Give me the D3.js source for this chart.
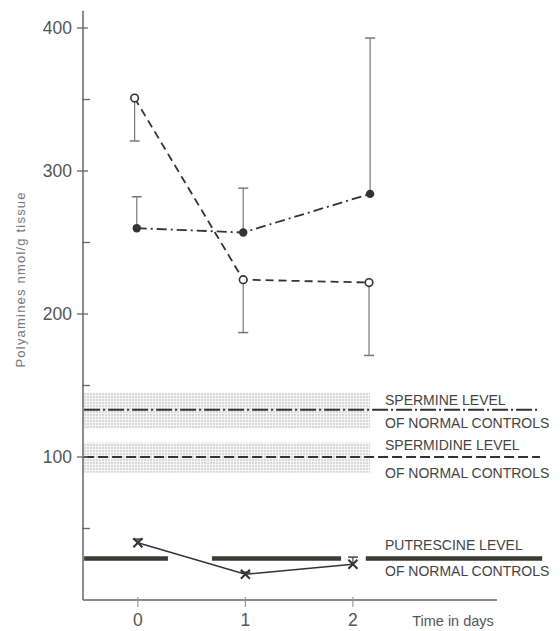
<!DOCTYPE html>
<html><head><meta charset="utf-8">
<script src="https://cdn.jsdelivr.net/npm/d3@7"></script>
<style>body{margin:0;background:#fff;} svg{display:block;font-family:"Liberation Sans",Arial,sans-serif;}</style>
</head><body>
<svg id="c" width="560" height="631"></svg>
<script>
// ---- data ----
const days = [0, 1, 2];
const yTicksMajor = [100, 200, 300, 400];
const yTicksMinor = [50, 150, 250, 350];
// spermine (filled circles, dash-dot)
const spermineX = [-0.01, 0.98, 2.16];
const spermineVal = [260, 257, 284];
const spermineErr = [282, 288, 393];
// spermidine (open circles, dashed)
const spermidineX = [-0.03, 0.98, 2.15];
const spermidineVal = [351, 224, 222];
const spermidineErr = [321, 187, 171];
// putrescine (crosses, solid)
const putrescineX = [0, 1, 2];
const putrescineVal = [40, 18, 25];
const putrescineErr = [42.6, 19.5, 30];
// normal control levels
const spermineNormal = 133, spermineBand = [120, 145];
const spermidineNormal = 100, spermidineBand = [89, 110];
const putrescineNormal = 29;
const levelLineExtent = [-0.5, 3.74];
const bandExtent = [-0.5, 2.16];
const putrescineSegments = [[-0.5, 0.28], [0.69, 1.89], [2.12, 3.76]];
const levelLabels = [
  {v: 140, t: "SPERMINE LEVEL"}, {v: 123.5, t: "OF NORMAL CONTROLS"},
  {v: 108, t: "SPERMIDINE LEVEL"}, {v: 88.5, t: "OF NORMAL CONTROLS"},
  {v: 38.5, t: "PUTRESCINE LEVEL"}, {v: 20.5, t: "OF NORMAL CONTROLS"}
];
const xLabel = "Time in days";
const yLabel = "Polyamines nmol/g tissue";

// ---- scales ----
const svg = d3.select("#c");
const x = d3.scaleLinear().domain([-0.51, 3.34]).range([83, 497]);
const y = d3.scaleLinear().domain([0, 400]).range([600, 28]);

// pattern for halftone bands
const defs = svg.append("defs");
const pat = defs.append("pattern").attr("id", "dots").attr("width", 3).attr("height", 3).attr("patternUnits", "userSpaceOnUse");
pat.append("rect").attr("width", 3).attr("height", 3).attr("fill", "#f5f5f5");
pat.append("rect").attr("width", 2).attr("height", 2).attr("fill", "#d8d8d8");

// bands
[spermineBand, spermidineBand].forEach(b => {
  svg.append("rect")
    .attr("x", x(bandExtent[0])).attr("width", x(bandExtent[1]) - x(bandExtent[0]))
    .attr("y", y(b[1])).attr("height", y(b[0]) - y(b[1]))
    .attr("fill", "url(#dots)");
});

// normal lines
svg.append("line").attr("x1", x(levelLineExtent[0])).attr("x2", x(levelLineExtent[1]))
  .attr("y1", y(spermineNormal)).attr("y2", y(spermineNormal))
  .attr("stroke", "#333").attr("stroke-width", 2).attr("stroke-dasharray", "16 3 2 3");
svg.append("line").attr("x1", x(levelLineExtent[0])).attr("x2", x(levelLineExtent[1]))
  .attr("y1", y(spermidineNormal)).attr("y2", y(spermidineNormal))
  .attr("stroke", "#333").attr("stroke-width", 2).attr("stroke-dasharray", "10 4");
putrescineSegments.forEach(s => {
  svg.append("line").attr("x1", x(s[0])).attr("x2", x(s[1]))
    .attr("y1", y(putrescineNormal)).attr("y2", y(putrescineNormal))
    .attr("stroke", "#3b3b35").attr("stroke-width", 4.5);
});

// level labels
svg.selectAll(".lvl").data(levelLabels).join("text")
  .attr("x", 385).attr("y", d => y(d.v)).attr("dy", "0.35em")
  .attr("font-size", 14).attr("fill", "#444")
  .text(d => d.t);

// axes
const axisColor = "#666";
svg.append("line").attr("x1", 83).attr("x2", 83).attr("y1", y(412)).attr("y2", y(0)).attr("stroke", axisColor).attr("stroke-width", 1.5);
svg.append("line").attr("x1", 83).attr("x2", x(3.34)).attr("y1", y(0)).attr("y2", y(0)).attr("stroke", axisColor).attr("stroke-width", 1.5);
yTicksMajor.forEach(v => {
  svg.append("line").attr("x1", 77).attr("x2", 88).attr("y1", y(v)).attr("y2", y(v)).attr("stroke", axisColor).attr("stroke-width", 1.3);
  svg.append("text").attr("x", 72).attr("y", y(v)).attr("dy", "0.35em").attr("text-anchor", "end")
    .attr("font-size", 17.5).attr("fill", "#555").text(v);
});
yTicksMinor.forEach(v => {
  svg.append("line").attr("x1", 82).attr("x2", 90).attr("y1", y(v)).attr("y2", y(v)).attr("stroke", axisColor).attr("stroke-width", 1.3);
});
days.forEach(d => {
  svg.append("line").attr("x1", x(d)).attr("x2", x(d)).attr("y1", y(0) - 3).attr("y2", y(0) + 7).attr("stroke", "#999").attr("stroke-width", 1.2);
  svg.append("text").attr("x", x(d)).attr("y", 620).attr("dy", "0.35em").attr("text-anchor", "middle")
    .attr("font-size", 17.5).attr("fill", "#555").text(d);
});
svg.append("text").attr("x", 453).attr("y", 621).attr("dy", "0.35em").attr("text-anchor", "middle")
  .attr("font-size", 14.5).attr("fill", "#555").text(xLabel);
svg.append("text").attr("transform", `translate(20,280) rotate(-90)`).attr("text-anchor", "middle")
  .attr("dy", "0.35em").attr("font-size", 13).attr("textLength", 175).attr("fill", "#777").text(yLabel);

// error bars
function errBars(xs, vals, errs, color) {
  xs.forEach((xv, i) => {
    svg.append("line").attr("x1", x(xv)).attr("x2", x(xv)).attr("y1", y(vals[i])).attr("y2", y(errs[i]))
      .attr("stroke", color).attr("stroke-width", 1.2);
    svg.append("line").attr("x1", x(xv) - 5).attr("x2", x(xv) + 5).attr("y1", y(errs[i])).attr("y2", y(errs[i]))
      .attr("stroke", color).attr("stroke-width", 1.5);
  });
}
errBars(spermineX, spermineVal, spermineErr, "#777");
errBars(spermidineX, spermidineVal, spermidineErr, "#777");
errBars(putrescineX, putrescineVal, putrescineErr, "#444");

const line = d3.line().x(d => x(d[0])).y(d => y(d[1]));
svg.append("path").attr("d", line(d3.zip(spermineX, spermineVal))).attr("fill", "none")
  .attr("stroke", "#333").attr("stroke-width", 1.8).attr("stroke-dasharray", "10 4 2 4");
svg.append("path").attr("d", line(d3.zip(spermidineX, spermidineVal))).attr("fill", "none")
  .attr("stroke", "#333").attr("stroke-width", 1.8).attr("stroke-dasharray", "8 5");
svg.append("path").attr("d", line(d3.zip(putrescineX, putrescineVal))).attr("fill", "none")
  .attr("stroke", "#333").attr("stroke-width", 1.5);

// markers
spermineX.forEach((xv, i) => svg.append("circle").attr("cx", x(xv)).attr("cy", y(spermineVal[i])).attr("r", 4.2).attr("fill", "#333"));
spermidineX.forEach((xv, i) => svg.append("circle").attr("cx", x(xv)).attr("cy", y(spermidineVal[i])).attr("r", 3.8)
  .attr("fill", "#fff").attr("stroke", "#333").attr("stroke-width", 1.6));
putrescineX.forEach((xv, i) => {
  const cx = x(xv), cy = y(putrescineVal[i]), s = 4.5;
  svg.append("path").attr("d", `M${cx - s},${cy - s}L${cx + s},${cy + s}M${cx - s},${cy + s}L${cx + s},${cy - s}`)
    .attr("stroke", "#333").attr("stroke-width", 2);
});
</script>
</body></html>
